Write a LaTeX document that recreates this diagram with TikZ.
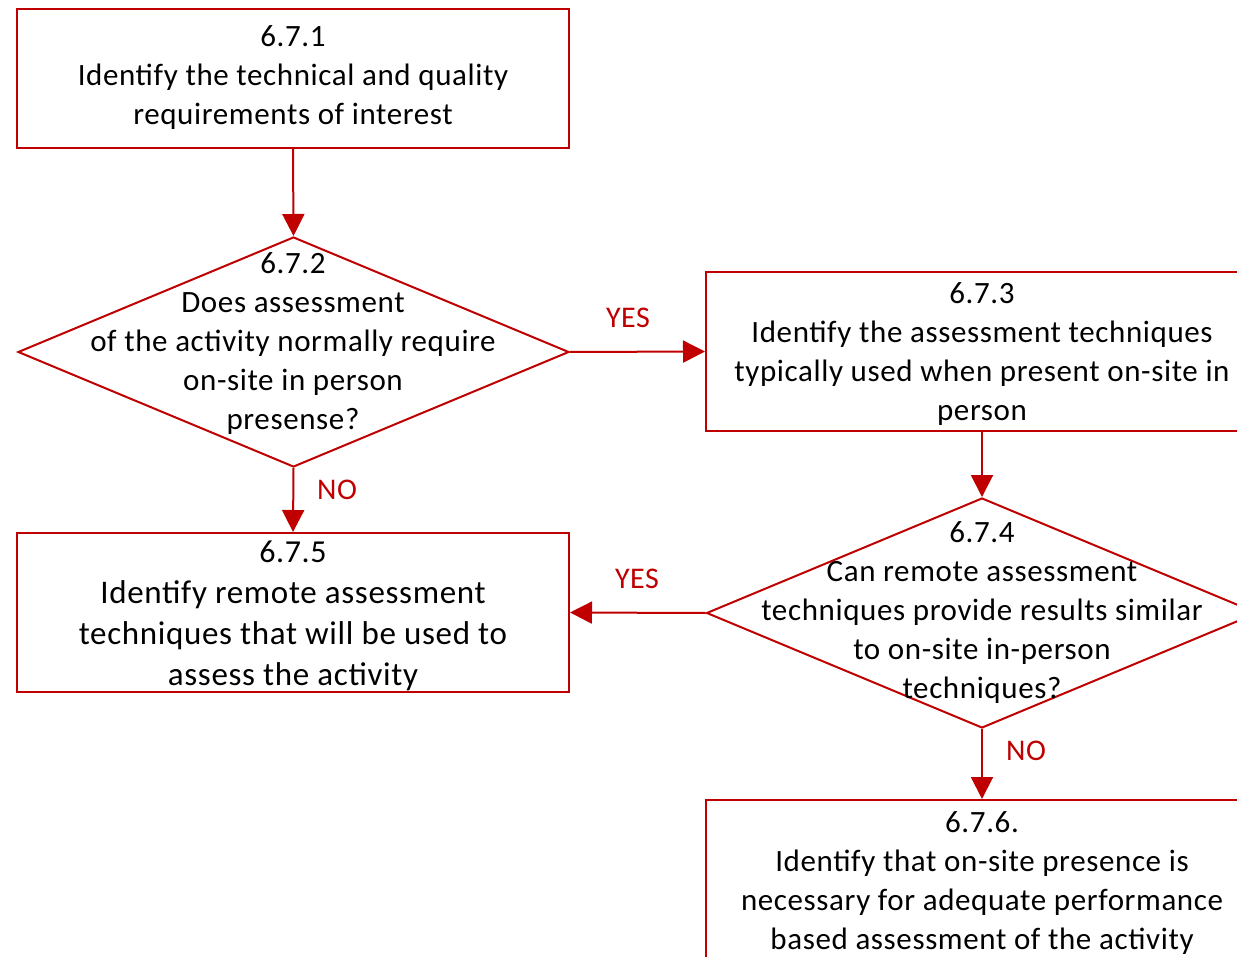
\documentclass[tikz,border=0pt]{standalone}
\usepackage{fontspec}
\setmainfont{Carlito}[LetterSpace=2]
\usetikzlibrary{shapes.geometric,arrows.meta}
\definecolor{vred}{HTML}{C00000}
\begin{document}
\begin{tikzpicture}[x=1pt,y=-1pt,
 box/.style={draw=vred,line width=2pt,rectangle,inner sep=0pt,minimum width=552pt},
 dec/.style={draw=vred,line width=2pt,diamond,inner sep=0pt,minimum width=551pt,minimum height=230pt,aspect=2.396},
 txt/.style={align=center,font=\fontsize{31}{39}\selectfont,text=black,inner sep=0pt},
 bigtxt/.style={align=center,font=\fontsize{33}{41}\selectfont,text=black,inner sep=0pt},
 lbl/.style={text=vred,font=\fontsize{30}{34}\selectfont,inner sep=0pt},
 arr/.style={draw=vred,line width=2pt,-{Triangle[length=22pt,width=22pt]}}]
\useasboundingbox (0,0) rectangle (1237,957);
\clip (0,0) rectangle (1237,957);
\fill[white] (0,0) rectangle (1237,957);
% shapes
\node[box,minimum height=139pt] (b1) at (293,78.5) {};
\node[dec] (d2) at (293.5,352) {};
\node[box,minimum height=159pt] (b3) at (982,351.5) {};
\node[dec] (d4) at (982,613) {};
\node[box,minimum height=159pt] (b5) at (293,612.5) {};
\node[box,minimum height=180pt] (b6) at (982,890) {};
% texts
\node[txt] (t1) at (293,78) {6.7.1\\Identify the technical and quality\\requirements of interest};
\node[txt] (t2) at (293,344) {6.7.2\\Does assessment\\of the activity normally require\\on-site in person\\presense?};
\node[txt] (t3) at (982,354) {6.7.3\\Identify the assessment techniques\\typically used when present on-site in\\person};
\node[txt] (t4) at (982,613) {6.7.4\\Can remote assessment\\techniques provide results similar\\to on-site in-person\\techniques?};
\node[bigtxt] (t5) at (293,616) {{\fontsize{32}{41}\selectfont 6.7.5}\\Identify remote assessment\\techniques that will be used to\\assess the activity};
\node[txt] (t6) at (982,883) {6.7.6.\\Identify that on-site presence is\\necessary for adequate performance\\based assessment of the activity};
% labels
\node[lbl] (y1) at (628,318) {YES};
\node[lbl] (y2) at (637,579) {YES};
\node[lbl] (n1) at (337,490) {NO};
\node[lbl] (n2) at (1026,751) {NO};
% connectors
\draw[arr] (b1.south) -- (d2.north);
\draw[arr] (d2.east) -- (b3.west);
\draw[arr] (d2.south) -- (b5.north);
\draw[arr] (b3.south) -- (d4.north);
\draw[arr] (d4.west) -- (b5.east);
\draw[arr] (d4.south) -- (b6.north);
\end{tikzpicture}
\end{document}
